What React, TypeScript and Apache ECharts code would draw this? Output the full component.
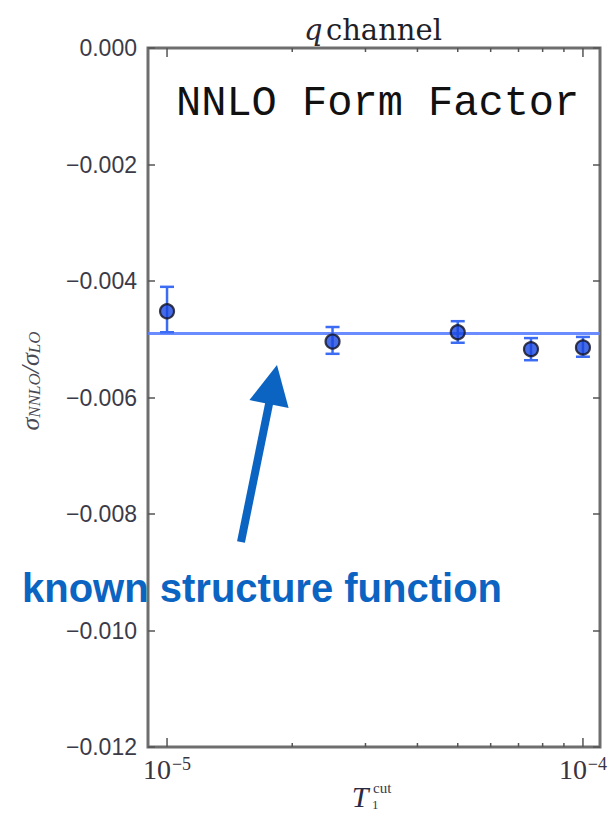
import { useEffect, useRef } from "react";
import * as echarts from "echarts";

// Measured points: T1 cut value, central ratio and error band
const tauCut = [1e-5, 2.5e-5, 5e-5, 7.5e-5, 1e-4];
const ratio = [-0.00452, -0.00504, -0.00488, -0.00517, -0.00514];
const errLow = [-0.00488, -0.00525, -0.00506, -0.00536, -0.0053];
const errHigh = [-0.0041, -0.00479, -0.00469, -0.00498, -0.00496];

// Known structure function value (horizontal reference)
const knownValue = -0.0049;

// Axis ranges and tick positions
const xMin = 9.0e-6;
const xMax = 1.099e-4;
const yMin = -0.012;
const yMax = 0;
const yStep = 0.002;
const xMajorTicks = [1e-5, 1e-4];
const xMinorTicks = [2e-5, 3e-5, 4e-5, 5e-5, 6e-5, 7e-5, 8e-5, 9e-5];

// Annotation arrow in data coordinates: tail then tip
const arrowTail = [1.506e-5, -0.00848];
const arrowTip = [1.838e-5, -0.00544];

const frameColor = "#6e6e6e";
const tickColor = "#555555";
const annotationBlue = "#0b64c1";

export default function App() {
  const ref = useRef<HTMLDivElement | null>(null);

  useEffect(() => {
    if (!ref.current) return;
    const chart = echarts.init(ref.current, undefined, { renderer: "svg" });

    const tickData = [
      ...xMajorTicks.map((v) => [v, 1]),
      ...xMinorTicks.map((v) => [v, 0]),
    ];

    const option: any = {
      animation: false,
      backgroundColor: "#ffffff",
      grid: {
        left: 148,
        right: 11,
        top: 48,
        bottom: 67,
        show: true,
        borderColor: frameColor,
        borderWidth: 3,
        backgroundColor: "transparent",
      },
      xAxis: {
        type: "log",
        logBase: 10,
        min: xMin,
        max: xMax,
        axisLine: { show: false },
        axisTick: { show: false },
        splitLine: { show: false },
        axisLabel: {
          margin: 8,
          formatter: (v: number) => {
            const e = Math.log10(v);
            if (Math.abs(e - Math.round(e)) > 1e-6) return "";
            return `{b|10}{e|\u2212${Math.abs(Math.round(e))}}`;
          },
          rich: {
            b: {
              fontFamily: "Liberation Serif",
              fontSize: 28,
              color: "#3a3340",
              verticalAlign: "bottom",
            },
            e: {
              fontFamily: "Liberation Serif",
              fontSize: 18,
              color: "#3a3340",
              verticalAlign: "top",
              padding: [0, 0, 0, 1],
            },
          },
        },
      },
      yAxis: [
        {
          type: "value",
          min: yMin,
          max: yMax,
          interval: yStep,
          axisLine: { show: false },
          splitLine: { show: false },
          axisTick: {
            show: true,
            inside: true,
            length: 7,
            lineStyle: { color: tickColor, width: 1.5 },
          },
          axisLabel: {
            margin: 11,
            fontFamily: "Liberation Sans",
            fontSize: 23,
            color: "#3b3b48",
            formatter: (v: number) =>
              Math.abs(v) < 1e-12 ? "0.000" : "\u2212" + Math.abs(v).toFixed(3),
          },
        },
        {
          type: "value",
          position: "right",
          min: yMin,
          max: yMax,
          interval: yStep,
          axisLine: { show: false },
          splitLine: { show: false },
          axisLabel: { show: false },
          axisTick: {
            show: true,
            inside: true,
            length: 7,
            lineStyle: { color: tickColor, width: 1.5 },
          },
        },
      ],
      series: [
        {
          // frame ticks on the logarithmic axis (bottom and top)
          type: "custom",
          silent: true,
          z: 5,
          data: tickData,
          renderItem: (_p: any, api: any) => {
            const v = api.value(0);
            const len = api.value(1) === 1 ? 9 : 4;
            const b = api.coord([v, yMin]);
            const t = api.coord([v, yMax]);
            const style = { stroke: tickColor, lineWidth: 1.5 };
            return {
              type: "group",
              children: [
                { type: "line", shape: { x1: b[0], y1: b[1], x2: b[0], y2: b[1] - len }, style },
                { type: "line", shape: { x1: t[0], y1: t[1], x2: t[0], y2: t[1] + len }, style },
              ],
            };
          },
        },
        {
          // known structure function level across the whole range
          type: "line",
          z: 2,
          silent: true,
          symbol: "none",
          lineStyle: { color: "#5b7fff", width: 3, opacity: 0.9 },
          data: [
            [xMin, knownValue],
            [xMax, knownValue],
          ],
        },
        {
          // error bars with caps
          type: "custom",
          z: 3,
          data: tauCut.map((x, i) => [x, errLow[i], errHigh[i]]),
          renderItem: (_p: any, api: any) => {
            const lo = api.coord([api.value(0), api.value(1)]);
            const hi = api.coord([api.value(0), api.value(2)]);
            const w = 7;
            const style = { stroke: "#3c6cf4", lineWidth: 2.5 };
            return {
              type: "group",
              children: [
                { type: "line", shape: { x1: lo[0], y1: lo[1], x2: hi[0], y2: hi[1] }, style },
                { type: "line", shape: { x1: lo[0] - w, y1: lo[1], x2: lo[0] + w, y2: lo[1] }, style },
                { type: "line", shape: { x1: hi[0] - w, y1: hi[1], x2: hi[0] + w, y2: hi[1] }, style },
              ],
            };
          },
        },
        {
          type: "scatter",
          z: 4,
          symbol: "circle",
          symbolSize: 14,
          itemStyle: { color: "#1846e0", borderColor: "#111122", borderWidth: 2.2 },
          data: tauCut.map((x, i) => [x, ratio[i]]),
        },
        {
          // annotation arrow pointing at the reference level
          type: "custom",
          z: 6,
          silent: true,
          encode: { x: [0, 2], y: [1, 3] },
          data: [[arrowTail[0], arrowTail[1], arrowTip[0], arrowTip[1]]],
          renderItem: (_p: any, api: any) => {
            const a = api.coord([api.value(0), api.value(1)]);
            const b = api.coord([api.value(2), api.value(3)]);
            const dx = b[0] - a[0];
            const dy = b[1] - a[1];
            const len = Math.sqrt(dx * dx + dy * dy);
            const ux = dx / len;
            const uy = dy / len;
            const headLen = 40;
            const halfW = 20;
            const base = [b[0] - ux * headLen, b[1] - uy * headLen];
            return {
              type: "group",
              children: [
                {
                  type: "line",
                  shape: { x1: a[0], y1: a[1], x2: base[0] + ux * 2, y2: base[1] + uy * 2 },
                  style: { stroke: annotationBlue, lineWidth: 8 },
                },
                {
                  type: "polygon",
                  shape: {
                    points: [
                      [b[0], b[1]],
                      [base[0] - uy * halfW, base[1] + ux * halfW],
                      [base[0] + uy * halfW, base[1] - ux * halfW],
                    ],
                  },
                  style: { fill: annotationBlue },
                },
              ],
            };
          },
        },
      ],
      graphic: [
        {
          type: "text",
          x: 373,
          y: 30,
          style: {
            text: "{q|q} {c|channel}",
            align: "center",
            verticalAlign: "middle",
            rich: {
              q: { fontFamily: "DejaVu Serif", fontStyle: "italic", fontSize: 29, fill: "#2a2530" },
              c: { fontFamily: "DejaVu Serif", fontSize: 29, fill: "#1f1f28" },
            },
          },
        },
        {
          type: "text",
          x: 176,
          y: 104,
          style: {
            text: "NNLO Form Factor",
            fontFamily: "Liberation Mono",
            fontSize: 42,
            fill: "#111111",
            align: "left",
            verticalAlign: "middle",
          },
        },
        {
          type: "text",
          x: 22,
          y: 588,
          z: 10,
          style: {
            text: "known structure function",
            fontFamily: "Liberation Sans",
            fontWeight: "bold",
            fontSize: 40,
            fill: annotationBlue,
            align: "left",
            verticalAlign: "middle",
          },
        },
        {
          // y-axis title, rotated
          type: "text",
          x: 30,
          y: 381,
          rotation: Math.PI / 2,
          style: {
            text: "{s|\u03c3}{n|NNLO}{s|/\u03c3}{n|LO}",
            align: "center",
            verticalAlign: "middle",
            rich: {
              s: { fontFamily: "Liberation Serif", fontStyle: "italic", fontSize: 26, fill: "#4a4a55" },
              n: {
                fontFamily: "Liberation Serif",
                fontStyle: "italic",
                fontSize: 17,
                fill: "#4a4a55",
                verticalAlign: "bottom",
                padding: [8, 0, 0, 0],
              },
            },
          },
        },
        {
          // x-axis title: T with subscript 1 and superscript cut
          type: "group",
          children: [
            {
              type: "text",
              x: 360,
              y: 796,
              style: {
                text: "T",
                fontFamily: "Liberation Serif",
                fontStyle: "italic",
                fontSize: 30,
                fill: "#2b2b45",
                align: "center",
                verticalAlign: "middle",
              },
            },
            {
              type: "text",
              x: 373,
              y: 795,
              style: {
                text: "cut",
                fontFamily: "Liberation Serif",
                fontSize: 15,
                fill: "#3a3a48",
                align: "left",
                verticalAlign: "bottom",
              },
            },
            {
              type: "text",
              x: 372,
              y: 798,
              style: {
                text: "1",
                fontFamily: "Liberation Serif",
                fontSize: 13,
                fill: "#3a3a48",
                align: "left",
                verticalAlign: "top",
              },
            },
          ],
        },
      ],
    };

    chart.setOption(option);
    return () => chart.dispose();
  }, []);

  return (
    <div
      ref={ref}
      style={{ position: "fixed", left: 0, top: 0, width: 611, height: 814 }}
    />
  );
}
